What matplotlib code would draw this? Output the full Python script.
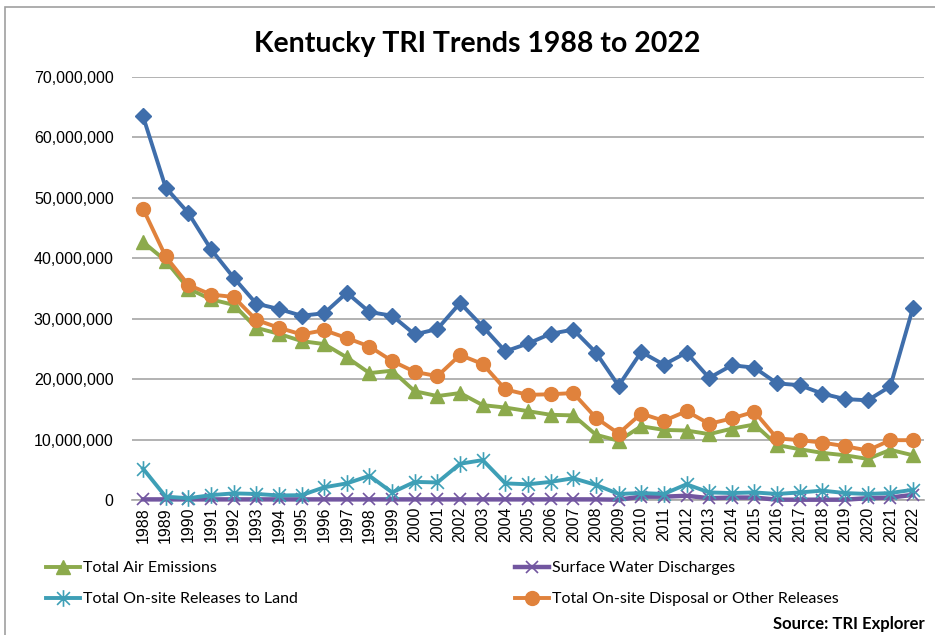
import numpy as np
import matplotlib
matplotlib.use('Agg')
import matplotlib.pyplot as plt
from matplotlib.patches import Rectangle
from matplotlib.path import Path
from matplotlib.ticker import FuncFormatter

years = list(range(1988, 2023))

total_releases = [63.5, 51.7, 47.5, 41.5, 36.8, 32.5, 31.6, 30.5, 30.9, 34.3,
                  31.1, 30.5, 27.4, 28.3, 32.6, 28.7, 24.6, 25.9, 27.5, 28.2,
                  24.4, 18.9, 24.5, 22.4, 24.4, 20.2, 22.3, 21.9, 19.3, 19.0,
                  17.6, 16.7, 16.5, 18.8, 31.8]
disposal = [48.2, 40.3, 35.6, 34.0, 33.6, 29.8, 28.5, 27.4, 28.1, 26.8,
            25.4, 23.0, 21.2, 20.5, 24.0, 22.5, 18.3, 17.4, 17.5, 17.7,
            13.6, 11.0, 14.3, 13.1, 14.7, 12.6, 13.5, 14.6, 10.2, 9.9,
            9.5, 8.9, 8.2, 9.9, 9.9]
air = [42.7, 39.6, 35.0, 33.2, 32.3, 28.5, 27.5, 26.3, 25.8, 23.6,
       21.0, 21.4, 18.0, 17.2, 17.7, 15.7, 15.3, 14.7, 14.1, 14.0,
       10.8, 9.8, 12.2, 11.6, 11.5, 10.9, 11.8, 12.5, 9.1, 8.4,
       7.8, 7.4, 6.8, 8.3, 7.4]
land = [5.2, 0.55, 0.3, 0.8, 1.1, 1.0, 0.75, 0.8, 2.1, 2.75,
        4.0, 1.25, 3.0, 2.9, 6.0, 6.6, 2.75, 2.6, 3.0, 3.6,
        2.5, 1.0, 1.15, 1.0, 2.6, 1.25, 1.15, 1.25, 1.0, 1.25,
        1.55, 1.15, 1.0, 1.15, 1.7]
water = [0.1, 0.1, 0.1, 0.1, 0.1, 0.1, 0.1, 0.1, 0.1, 0.1,
         0.1, 0.1, 0.1, 0.1, 0.1, 0.1, 0.1, 0.1, 0.1, 0.1,
         0.1, 0.05, 0.55, 0.55, 0.7, 0.3, 0.4, 0.4, 0.05, 0.05,
         0.05, 0.05, 0.3, 0.4, 0.85]

# values read in millions
to_lbs = lambda v: np.array(v) * 1e6

c_blue = '#3F6EAB'
c_green = '#8CAA4C'
c_purple = '#7256A0'
c_teal = '#3E9FB6'
c_orange = '#E0823C'

# excel style star: X plus a vertical stroke
star = Path([(-1, -1), (1, 1), (-1, 1), (1, -1), (0, -1.3), (0, 1.3)],
            [Path.MOVETO, Path.LINETO, Path.MOVETO, Path.LINETO, Path.MOVETO, Path.LINETO])

fig = plt.figure(figsize=(9.35, 6.35), dpi=100)
ax = fig.add_axes([131.7 / 935, 1 - 500 / 635, (924.3 - 131.7) / 935, (500 - 77) / 635])

x = np.arange(len(years))
lw = 2.8
ax.plot(x, to_lbs(total_releases), color=c_blue, lw=lw, marker='D', ms=8, zorder=3, clip_on=False)
l_air, = ax.plot(x, to_lbs(air), color=c_green, lw=lw, marker='^', ms=10, zorder=3, clip_on=False)
l_water, = ax.plot(x, to_lbs(water), color=c_purple, lw=3.2, marker='x', ms=9, mew=1.2, zorder=3, clip_on=False)
l_land, = ax.plot(x, to_lbs(land), color=c_teal, lw=lw, marker=star, ms=12, mew=1.2, zorder=3, clip_on=False)
l_disp, = ax.plot(x, to_lbs(disposal), color=c_orange, lw=lw, marker='o', ms=10, zorder=3, clip_on=False)

ax.set_xlim(-0.5, len(years) - 0.5)
ax.set_ylim(0, 70e6)
ax.set_yticks(np.arange(0, 70e6 + 1, 10e6))
ax.yaxis.set_major_formatter(FuncFormatter(lambda v, p: '{:,.0f}'.format(v)))
ax.set_xticks(x)
ax.set_xticklabels([str(y) for y in years], rotation=90, family='Liberation Sans', fontsize=11.5)
for lab in ax.get_yticklabels():
    lab.set_family('Liberation Sans')
    lab.set_fontsize(11.5)
ax.tick_params(axis='y', length=0, pad=13)
ax.tick_params(axis='x', length=0, pad=5)
ax.grid(axis='y', color='#A6A6A6', lw=1.2, zorder=0)
for s in ['top', 'right', 'left']:
    ax.spines[s].set_visible(False)
ax.spines['bottom'].set_color('#A6A6A6')
ax.spines['bottom'].set_linewidth(1.2)

fig.text(477 / 935, 1 - 44 / 635, 'Kentucky TRI Trends 1988 to 2022', ha='center', va='center',
         fontsize=20.5, fontweight='bold', family='Lato')

leg_kw = dict(frameon=False, numpoints=1, handlelength=2.1, handletextpad=0.2,
              labelspacing=1.05, prop={'family': 'Lato', 'size': 11.5}, borderpad=0, borderaxespad=0)
leg1 = fig.legend([l_air, l_land], ['Total Air Emissions', 'Total On-site Releases to Land'],
                  loc='upper left', bbox_to_anchor=(46 / 935, 1 - 561 / 635), **leg_kw)
leg2 = fig.legend([l_water, l_disp], ['Surface Water Discharges', 'Total On-site Disposal or Other Releases'],
                  loc='upper left', bbox_to_anchor=(515 / 935, 1 - 561 / 635), **leg_kw)

fig.text(925 / 935, 1 - 624 / 635, 'Source: TRI Explorer', ha='right', va='center',
         fontsize=12, fontweight='bold', family='Lato')

# chart area border
fig.patches.append(Rectangle((5 / 935, -0.05), 1.0, 1 - 7 / 635 + 0.05, transform=fig.transFigure,
                             fill=False, edgecolor='#A0A0A0', lw=1.2))

fig.savefig('out.png', dpi=100)
